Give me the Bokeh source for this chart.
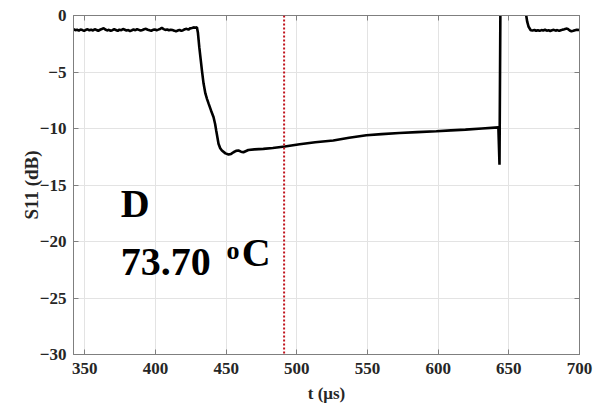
from bokeh.plotting import figure
from bokeh.models import Range1d, LinearAxis, Span, Label, FixedTicker
from bokeh.embed import file_html
from bokeh.resources import INLINE

# Reflection trace S11 (dB) versus time (µs)
t_pre = [342, 343.3, 344.5, 345.8, 347, 348.3, 349.5, 350.8, 352, 353.3, 354.5, 355.8,
         357, 358.3, 359.5, 360.8, 362, 363.3, 364.5, 365.8, 367, 368.3, 369.5, 370.8,
         372, 373.3, 374.5, 375.8, 377, 378.3, 379.5, 380.8, 382, 383.3, 384.5, 385.8,
         387, 388.3, 389.5, 390.8, 392, 393.3, 394.5, 395.8, 397, 398.3, 399.5, 400.8,
         402, 403.3, 404.5, 405.8, 407, 408.3, 409.5, 410.8, 412, 413.3, 414.5, 415.8,
         417, 418.3, 419.5, 420.8, 422, 423.3, 424.5, 425.8, 427, 428.3, 429.3]
s_pre = [-1.22, -1.30, -1.26, -1.34, -1.24, -1.29, -1.36, -1.27, -1.22, -1.31, -1.25, -1.33,
         -1.21, -1.28, -1.35, -1.26, -1.20, -1.12, -1.24, -1.32, -1.27, -1.35, -1.30, -1.22,
         -1.28, -1.36, -1.25, -1.30, -1.19, -1.26, -1.33, -1.29, -1.38, -1.31, -1.24, -1.30,
         -1.21, -1.27, -1.34, -1.28, -1.22, -1.18, -1.26, -1.31, -1.35, -1.27, -1.23, -1.30,
         -1.25, -1.19, -1.10, -1.20, -1.27, -1.24, -1.31, -1.26, -1.29, -1.34, -1.40, -1.33,
         -1.27, -1.36, -1.30, -1.22, -1.18, -1.25, -1.14, -1.10, -1.05, -1.08, -1.03]

t_fall = [430.0, 431.0, 432.0, 432.9, 434.0, 435.3, 436.5, 437.6, 439.3, 441.1, 442.2,
          443.0, 444.6, 445.8, 447.0, 449.5, 451.7, 453.5, 455.2, 457.0, 458.7, 460.5,
          462.2, 465.7, 470.0, 476.3, 483.0, 491.5, 502.0, 513.0, 525.8, 537.0, 549.2,
          560.0, 572.5, 585.0, 598.7, 609.0, 619.3, 631.0, 642.6]
s_fall = [-1.5, -2.8, -3.9, -4.9, -6.0, -6.9, -7.4, -7.8, -8.4, -9.0, -9.6,
          -10.2, -11.35, -11.75, -11.95, -12.2, -12.3, -12.25, -12.1, -11.98, -11.95, -12.05,
          -12.1, -11.9, -11.85, -11.8, -11.72, -11.6, -11.4, -11.22, -11.06, -10.82, -10.6,
          -10.5, -10.4, -10.32, -10.24, -10.17, -10.1, -10.0, -9.9]

t_spike = [643.4, 644.1, 650.0, 656.0, 662.3, 663.0, 664.0, 665.5]
s_spike = [-13.2, 2.0, 3.0, 3.0, 0.0, -0.55, -1.0, -1.3]

t_post = [666.8, 668.1, 669.3, 670.6, 671.8, 673.1, 674.3, 675.6, 676.8, 678.1, 679.3,
          680.6, 681.8, 683.1, 684.3, 685.6, 686.8, 688.1, 689.3, 690.6, 691.8, 693.1,
          694.3, 695.6, 696.8, 698.1, 699.3, 700]
s_post = [-1.32, -1.28, -1.35, -1.30, -1.36, -1.29, -1.33, -1.26, -1.34, -1.30, -1.37,
          -1.31, -1.27, -1.34, -1.29, -1.36, -1.30, -1.25, -1.22, -1.16, -1.20, -1.33,
          -1.40, -1.35, -1.30, -1.26, -1.29, -1.27]

t_all = t_pre + t_fall + t_spike + t_post
s_all = s_pre + s_fall + s_spike + s_post

x_ticks = [350, 400, 450, 500, 550, 600, 650, 700]
y_ticks = [-30, -25, -20, -15, -10, -5, 0]
t_marker = 491.0

SERIF = "Liberation Serif"
AXIS_GRAY = "#7f7f7f"
TEXT_DARK = "#262626"

p = figure(width=595, height=406, output_backend="svg", toolbar_location=None,
           x_range=Range1d(342, 700), y_range=Range1d(-30, 0),
           min_border_left=73, min_border_right=16, min_border_top=15,
           min_border_bottom=52, background_fill_color="white",
           border_fill_color="white")

p.outline_line_color = AXIS_GRAY
p.outline_line_width = 1

for ax, ticks in ((p.xaxis[0], x_ticks), (p.yaxis[0], y_ticks)):
    ax.ticker = FixedTicker(ticks=ticks)
    ax.axis_line_color = AXIS_GRAY
    ax.major_tick_line_color = AXIS_GRAY
    ax.major_tick_in = 5
    ax.major_tick_out = 0
    ax.minor_tick_line_color = None
    ax.major_label_text_font = SERIF
    ax.major_label_text_font_style = "bold"
    ax.major_label_text_font_size = "17px"
    ax.major_label_text_color = TEXT_DARK
    ax.axis_label_text_font = SERIF
    ax.axis_label_text_font_style = "bold"
    ax.axis_label_text_color = TEXT_DARK

p.xaxis[0].major_label_standoff = 8
p.xaxis[0].axis_label = "t (μs)"
p.xaxis[0].axis_label_text_font_size = "17px"
p.xaxis[0].axis_label_standoff = 7
p.yaxis[0].major_label_standoff = 7
p.yaxis[0].axis_label = "S11 (dB)"
p.yaxis[0].axis_label_text_font_size = "19px"
p.yaxis[0].axis_label_standoff = -5

# box ticks on the top and right edges, without labels
for loc, ticks in (("above", x_ticks), ("right", y_ticks)):
    ax = LinearAxis(ticker=FixedTicker(ticks=ticks),
                    major_label_overrides={v: "" for v in ticks})
    ax.axis_line_color = AXIS_GRAY
    ax.major_tick_line_color = AXIS_GRAY
    ax.major_tick_in = 5
    ax.major_tick_out = 0
    ax.minor_tick_line_color = None
    ax.major_label_text_font_size = "1px"
    ax.major_label_standoff = 0
    p.add_layout(ax, loc)

p.xgrid.ticker = FixedTicker(ticks=x_ticks)
p.ygrid.ticker = FixedTicker(ticks=y_ticks)
p.grid.grid_line_color = "#e3e3e3"
p.grid.grid_line_width = 1

p.line(t_all, s_all, line_color="black", line_width=2.6)

p.add_layout(Span(location=t_marker, dimension="height", line_color="#c0141e",
                  line_dash="2 2", line_width=2))


def note(x, y, text, size):
    p.add_layout(Label(x=x, y=y, text=text, text_font=SERIF, text_font_style="bold",
                       text_font_size=size, text_color="black"))


# annotation: sample D and its temperature
note(375.4, -18.65, "D", "40px")
note(375.4, -23.0, "73.70", "40px")
note(450.3, -22.1, "o", "26px")
note(461.0, -23.0, "C", "40px")

open("out.html", "w").write(file_html(p, INLINE))
